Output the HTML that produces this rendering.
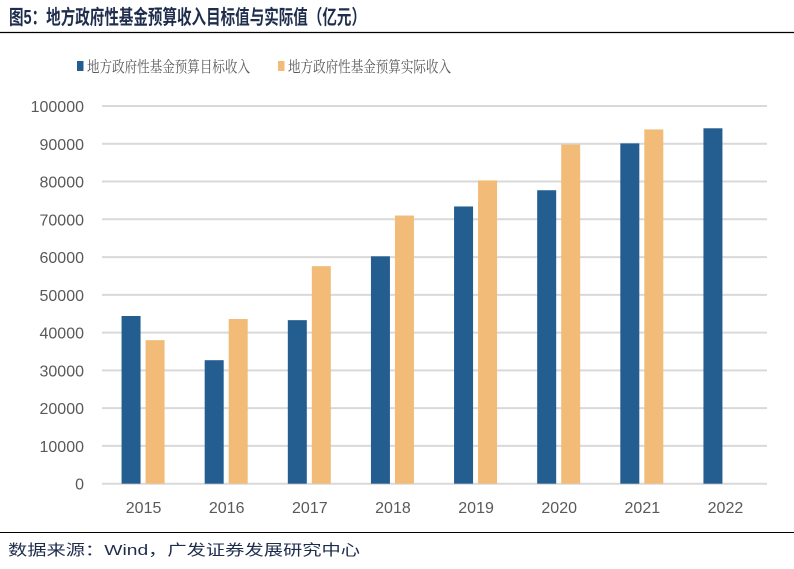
<!DOCTYPE html>
<html><head><meta charset="utf-8"><style>
body{margin:0;width:794px;height:564px;background:#fff;overflow:hidden;font-family:"Liberation Sans","Noto Sans CJK SC",sans-serif}
</style></head><body>
<svg width="794" height="564" xmlns="http://www.w3.org/2000/svg">
<text x="9" y="24" font-size="20" font-weight="bold" fill="#1f2d4d" textLength="357" lengthAdjust="spacingAndGlyphs" font-family="Liberation Sans,Noto Sans CJK SC,sans-serif">图5：地方政府性基金预算收入目标值与实际值（亿元）</text>
<line x1="0" y1="32.5" x2="794" y2="32.5" stroke="#000" stroke-width="1.2"/>
<g font-family="Noto Serif CJK SC,serif">
<rect x="77" y="61" width="6.5" height="10" fill="#245e91"/>
<text x="87" y="72" font-size="15.5" fill="#595959" textLength="163" lengthAdjust="spacingAndGlyphs">地方政府性基金预算目标收入</text>
<rect x="278" y="61" width="6.5" height="10" fill="#f2bb77"/>
<text x="288" y="72" font-size="15.5" fill="#595959" textLength="163" lengthAdjust="spacingAndGlyphs">地方政府性基金预算实际收入</text>
</g>
<g id="grid"></g><g id="bars"></g><g id="labels"></g>
<line x1="0" y1="532.5" x2="794" y2="532.5" stroke="#000" stroke-width="1"/>
<text x="8" y="555" font-size="15" fill="#1f2d4d" textLength="352" lengthAdjust="spacingAndGlyphs">数据来源：Wind，广发证券发展研究中心</text>
</svg>
<script>
const categories=["2015","2016","2017","2018","2019","2020","2021","2022"];
const targetValues=[44400,32700,43300,60200,73400,77700,90100,94100];
const actualValues=[38000,43600,57600,71000,80300,89800,93800,null];
const yTicks=[0,10000,20000,30000,40000,50000,60000,70000,80000,90000,100000];
const NS="http://www.w3.org/2000/svg";
const x0=102,x1=767,y0=483.7,yTop=106,yMax=100000;
const yS=v=>y0-(v/yMax)*(y0-yTop);
const bw=(x1-x0)/categories.length;
const xC=i=>x0+bw*(i+0.5);
function mk(t,a,p){const e=document.createElementNS(NS,t);for(const k in a)e.setAttribute(k,a[k]);p.appendChild(e);return e;}
const g=document.getElementById('grid'),b=document.getElementById('bars'),l=document.getElementById('labels');
yTicks.forEach(v=>{
 const ln=mk('line',{x1:x0,x2:x1,y1:yS(v),y2:yS(v),stroke:'#d9d9d9','stroke-width':2},g);
 
 
 const t=mk('text',{x:84,y:yS(v)+6,'font-size':16,fill:'#595959','text-anchor':'end'},l);
 t.textContent=v;
 
 
});
categories.forEach((c,i)=>{
 const cx=xC(i);
 if(targetValues[i]!=null){
  const r=mk('rect',{x:cx-22,y:yS(targetValues[i]),width:19,height:y0-yS(targetValues[i]),fill:'#245e91'},b);
  
  
 }
 if(actualValues[i]!=null){
  const r=mk('rect',{x:cx+2,y:yS(actualValues[i]),width:19,height:y0-yS(actualValues[i]),fill:'#f2bb77'},b);
  
  
 }
 const t=mk('text',{x:cx,y:513,'font-size':16,fill:'#595959','text-anchor':'middle'},l);
 t.textContent=c;
 
 
});
</script>
</body></html>
